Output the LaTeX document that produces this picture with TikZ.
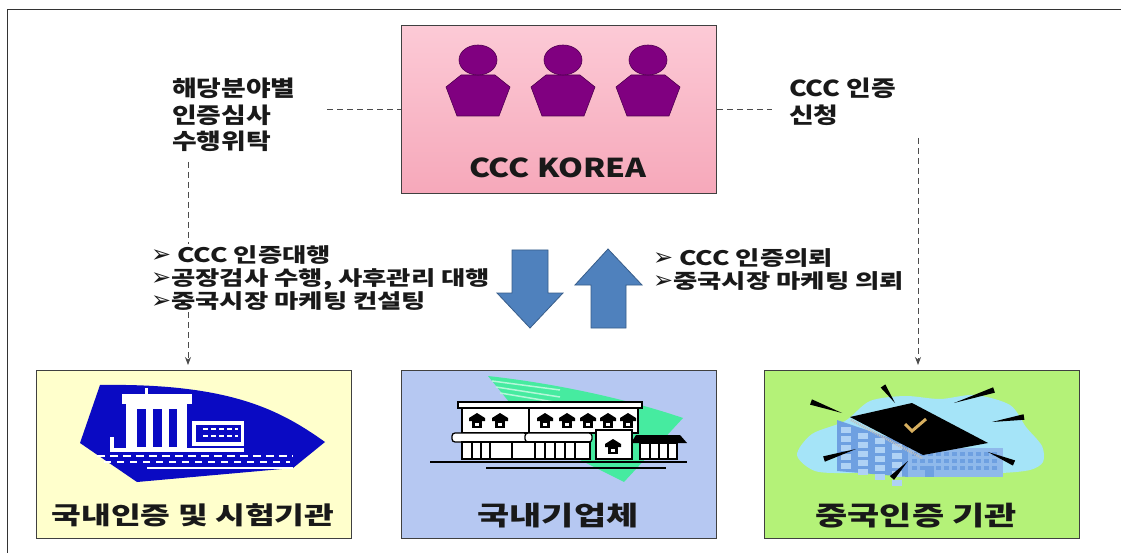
\documentclass[tikz,border=0pt]{standalone}
\usepackage{fontspec}
\setmainfont{Noto Sans CJK KR}[FakeStretch=1.22]
\newfontfamily\krwide{Noto Sans CJK KR}[FakeStretch=1.32]
\newfontfamily\dejavu{DejaVu Sans}
\usetikzlibrary{calc,arrows.meta}
\definecolor{pinkT}{RGB}{252,202,214}
\definecolor{pinkB}{RGB}{246,168,186}
\definecolor{purp}{RGB}{128,0,128}
\definecolor{purpD}{RGB}{80,0,80}
\definecolor{yel}{RGB}{255,255,204}
\definecolor{lblue}{RGB}{182,200,242}
\definecolor{lgreen}{RGB}{180,242,120}
\definecolor{arrB}{RGB}{79,129,189}
\definecolor{arrD}{RGB}{56,93,138}
\definecolor{icoblue}{RGB}{10,10,195}
\definecolor{mint}{RGB}{70,235,160}
\definecolor{cloud}{RGB}{165,228,248}
\definecolor{bldg}{RGB}{110,160,225}
\definecolor{bldgL}{RGB}{175,210,245}
\definecolor{checkc}{RGB}{215,175,95}
\newcommand\bularr{{\dejavu\fontsize{24}{20}\selectfont ➢}}
\newcommand\hwin[2]{%
  \fill[black] (#1-8,#2+1) -- (#1-8,#2-2) -- (#1,#2-7) -- (#1+8,#2-2) -- (#1+8,#2+1) -- cycle;
  \fill[black] (#1-5,#2+1) rectangle (#1+5,#2+8);
  \fill[white] (#1-2,#2+3) rectangle (#1+2,#2+6);}
\newcommand\myray[4]{\fill[black] (#1,#2) -- ($(#3,#4)!2.8pt!90:(#1,#2)$) -- ($(#3,#4)!2.8pt!-90:(#1,#2)$) -- cycle;}
\begin{document}
\begin{tikzpicture}[x=1pt,y=-1pt,
  panel/.style={draw=black!75, line width=0.9pt, minimum width=315pt, minimum height=168pt, anchor=north west, inner sep=0pt},
  dashline/.style={draw=black!70, line width=0.8pt, dash pattern=on 6pt off 4pt},
  lbl/.style={font=\bfseries\fontsize{22}{26.5}\selectfont, align=left, inner sep=0pt, text=black!90},
  bul/.style={font=\krwide\bfseries\fontsize{20}{23}\selectfont, align=left, inner sep=1pt, fill=white, text=black!90},
  title/.style={font=\krwide\bfseries\fontsize{26.5}{28}\selectfont, text=black!90, inner sep=0pt},
  bigarrow/.style={fill=arrB, draw=arrD, line width=0.8pt},
  person/.style={fill=purp, draw=purpD, line width=0.6pt},
  bw/.style={draw=black, line width=1.3pt, fill=white}]
\useasboundingbox (0,0) rectangle (1121,553);
\fill[white] (0,0) rectangle (1121,553);
% outer frame
\draw[black!80, line width=1pt] (7,553) -- (7,10) -- (1121,10);

% panels
\node[panel, top color=pinkT, bottom color=pinkB] (kor) at (401,25) {};
\node[panel, fill=yel] (ybox) at (36,370) {};
\node[panel, fill=lblue] (bbox) at (401,370) {};
\node[panel, fill=lgreen] (gbox) at (764,370) {};

% persons
\foreach \cx in {478,563,648}{
  \filldraw[person] (\cx-17,75) -- (\cx+17,75) -- (\cx+32,87) -- (\cx+21,116) -- (\cx-21,116) -- (\cx-32,87) -- cycle;
  \filldraw[person] (\cx,60) ellipse [x radius=19pt, y radius=15pt];
}
\node[font=\bfseries\fontsize{26}{28}\selectfont, text=black!90, inner sep=0pt] (korT) at (558,168) {CCC KOREA};

% labels
\node[lbl, anchor=north west] (lab) at (172,78) {해당분야별\\인증심사\\수행위탁};
\node[lbl, anchor=north west] (rlab) at (789,78) {CCC 인증\\신청};

% connectors
\coordinate (ld) at (327,109);
\draw[dashline] (ld) -- (ld -| kor.west);
\coordinate (rd) at (772,109);
\draw[dashline] (kor.east |- rd) -- (rd);
\coordinate (lv) at (188,162);
\draw[dashline, -{Stealth[length=8pt,width=6pt]}, shorten >=5pt] (lv) -- (lv |- ybox.north);
\coordinate (rv) at (918,138);
\draw[dashline, -{Stealth[length=8pt,width=6pt]}, shorten >=5pt] (rv) -- (rv |- gbox.north);

% bullet texts
\node[bul, anchor=north west] (lb) at (150,244) {\bularr\ CCC 인증대행\\\bularr 공장검사 수행, 사후관리 대행\\\bularr 중국시장 마케팅 컨설팅};
\node[bul, anchor=north west, fill=none] (rb) at (652,247) {\bularr\ CCC 인증의뢰\\\bularr 중국시장 마케팅 의뢰};

% big arrows
\path[bigarrow] (512,250) -- (548,250) -- (548,293) -- (563,293) -- (530,328) -- (497,293) -- (512,293) -- cycle;
\path[bigarrow] (608,249) -- (642,285) -- (626,285) -- (626,328) -- (591,328) -- (591,285) -- (575,285) -- cycle;

% ---- left icon ----
\fill[icoblue] (100,385) .. controls (230,383) and (280,410) .. (325,442) -- (293,468) -- (137,482) -- (80,443) -- cycle;
\fill[white] (122,394) rectangle (192,404);
\fill[white] (145,388) rectangle (148,394);
\fill[white] (126,404) rectangle (187,452);
\fill[icoblue] (137,409) rectangle (146,447);
\fill[icoblue] (153,409) rectangle (162,447);
\fill[icoblue] (169,409) rectangle (177,447);
\fill[white] (110,437) rectangle (114,452);
\fill[white] (110,448) rectangle (126,452);
\fill[white] (192,421) rectangle (244,446);
\fill[icoblue] (196,425) rectangle (241,442);
\draw[white, line width=2pt, dash pattern=on 5pt off 3pt] (203,429) -- (238,429);
\draw[white, line width=2pt, dash pattern=on 5pt off 3pt] (203,436) -- (238,436);
\fill[white] (187,448) rectangle (244,452);
\draw[white, line width=2.5pt, dash pattern=on 8pt off 5pt] (97,456) -- (293,456);
\draw[white, line width=2pt, dash pattern=on 7pt off 6pt] (104,462) -- (290,462);
\draw[white, line width=1.5pt] (147,468) -- (293,468);

% ---- middle icon ----
\fill[mint] (488,376) .. controls (560,384) and (630,400) .. (683,418) -- (624,482) -- (540,440) -- cycle;
\draw[white!60!mint, line width=1.5pt] (492,381) -- (560,390);
\draw[white!60!mint, line width=1.5pt] (496,387) -- (560,397);
\draw[white!60!mint, line width=1.5pt] (500,393) -- (560,403);
\filldraw[bw] (458,402) rectangle (642,408);
\filldraw[bw] (462,408) rectangle (529,433);
\filldraw[bw] (529,408) rectangle (638,433);
\foreach \wx in {477,500,545,567,588,608,628}{\hwin{\wx}{420}}
\filldraw[bw, rounded corners=3pt] (452,433) rectangle (527,442);
\filldraw[bw, rounded corners=3pt] (525,433) rectangle (592,442);
\filldraw[bw] (462,442) rectangle (590,459);
\foreach \lx in {472,481,490,512,535,545,555,565,575}{\draw[black, line width=1.3pt] (\lx,442) -- (\lx,459);}
\filldraw[bw] (596,430) rectangle (632,459);
\hwin{613}{446}
\fill[black] (636,435) -- (680,435) -- (687,443) -- (631,443) -- cycle;
\filldraw[bw] (640,443) rectangle (677,459);
\foreach \lx in {650,659,668}{\draw[black, line width=1.3pt] (\lx,443) -- (\lx,459);}
\draw[black, line width=2pt] (430,462) -- (687,462);
\draw[black, line width=1.6pt] (486,468) -- (666,468);

% ---- right icon ----
\fill[cloud] plot[smooth cycle] coordinates {(797,455) (812,434) (845,421) (870,401) (905,396) (940,399) (975,395) (1010,405) (1026,427) (1042,446) (1043,462) (1030,470) (1000,473) (960,472) (900,471) (850,473) (815,471)};
\fill[bldg] (837,420) -- (908,444) -- (908,477) -- (837,471) -- cycle;
\foreach \i in {0,...,4}{\foreach \j in {0,...,3}{
  \fill[bldgL] (841+\j*17,427+\j*5.6+\i*9) rectangle (851+\j*17,433+\j*5.6+\i*9);}}
\fill[bldgL!50!bldg] (908,448) rectangle (1003,477);
\foreach \i in {0,1,2}{\foreach \j in {0,...,10}{
  \fill[bldg] (912+\j*8,452+\i*7) rectangle (917+\j*8,456+\i*7);}}
\fill[bldg] (925,466) rectangle (934,477);
\fill[black] (850,417) -- (912,403) -- (988,443) -- (923,455) -- cycle;
\draw[gray!50, line width=2.5pt, dash pattern=on 1pt off 1pt] (851,420) -- (922,458);
\draw[checkc, line width=3pt] (905,424) -- (912,431) -- (926,419);
\myray{895}{403}{883}{386}
\myray{842}{413}{811}{402}
\myray{954}{403}{994}{390}
\myray{992}{422}{1024}{417}
\myray{988}{452}{1014}{463}
\myray{856}{449}{824}{459}
\myray{908}{461}{892}{478}

% bottom labels
\node[title, font=\krwide\bfseries\fontsize{24.5}{26}\selectfont] (yT) at (193,515) {국내인증 및 시험기관};
\node[title] (bT) at (558,516) {국내기업체};
\node[title] (gT) at (916,516) {중국인증 기관};
\end{tikzpicture}
\end{document}
